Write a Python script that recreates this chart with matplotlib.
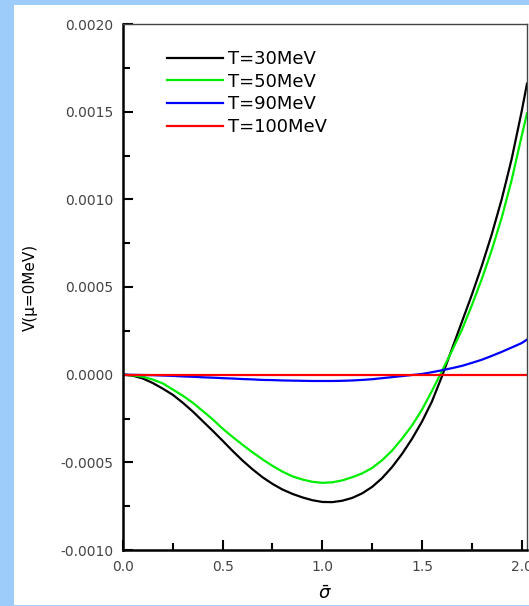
import matplotlib
matplotlib.use("Agg")
import matplotlib.pyplot as plt
from matplotlib.patches import Rectangle
from matplotlib.ticker import MultipleLocator, FormatStrFormatter

plt.rcParams['font.family'] = ['DejaVu Sans']
plt.rcParams['axes.unicode_minus'] = False

# sigma-bar values
sigma = [0.0, 0.05, 0.1, 0.15, 0.2, 0.25, 0.3, 0.35, 0.4, 0.45,
         0.5, 0.55, 0.6, 0.65, 0.7, 0.75, 0.8, 0.85, 0.9, 0.95,
         1.0, 1.05, 1.1, 1.15, 1.2, 1.25, 1.3, 1.35, 1.4, 1.45,
         1.5, 1.55, 1.6, 1.65, 1.7, 1.75, 1.8, 1.85, 1.9, 1.95,
         2.0, 2.027]

v_t30 = [0.0, -0.000006, -0.000022, -0.000048, -0.00008, -0.000115, -0.00016, -0.00021, -0.000265, -0.00032,
         -0.000377, -0.000435, -0.00049, -0.00054, -0.000585, -0.000623, -0.000655, -0.00068, -0.0007, -0.000716,
         -0.000726, -0.000727, -0.000719, -0.000703, -0.000677, -0.00064, -0.00059, -0.000527, -0.000452, -0.000366,
         -0.000268, -0.000153, -0.00001, 0.000145, 0.0003, 0.000455, 0.00062, 0.0008, 0.001, 0.00123,
         0.0015, 0.00166]
v_t50 = [0.0, -0.000004, -0.000012, -0.000028, -0.00005, -0.000085, -0.00012, -0.00016, -0.000207, -0.000255,
         -0.000308, -0.000355, -0.0004, -0.000443, -0.000483, -0.00052, -0.000553, -0.00058, -0.000598, -0.000611,
         -0.000617, -0.000614, -0.000603, -0.000585, -0.000563, -0.000532, -0.000488, -0.000433, -0.000365, -0.00029,
         -0.0002, -0.000093, 0.00002, 0.000135, 0.000255, 0.000395, 0.000545, 0.00071, 0.000895, 0.00111,
         0.00136, 0.00149]
v_t90 = [0.0, -0.000001, -0.000002, -0.000003, -0.000005, -0.000007, -0.00001, -0.000012, -0.000015, -0.000017,
         -0.00002, -0.000022, -0.000025, -0.000027, -0.00003, -0.000031, -0.000033, -0.000034, -0.000035, -0.000036,
         -0.000036, -0.000036, -0.000035, -0.000033, -0.00003, -0.000026, -0.00002, -0.000014, -0.000008, -0.000002,
         0.000004, 0.000014, 0.000025, 0.000037, 0.00005, 0.000067, 0.000085, 0.000107, 0.00013, 0.000155,
         0.00018, 0.0002]
v_t100 = [0.0] * len(sigma)

series = [("T=30MeV", v_t30, "black"),
          ("T=50MeV", v_t50, "#00ee00"),
          ("T=90MeV", v_t90, "#0000ff"),
          ("T=100MeV", v_t100, "#ff0000")]

W, H = 529, 606
fig = plt.figure(figsize=(W / 100, H / 100), dpi=100)
fig.patch.set_facecolor("#9dcbfa")
# white page inside the blue frame
fig.add_artist(Rectangle((14 / W, 1 / H), 1, (H - 6) / H,
                         transform=fig.transFigure, facecolor="white",
                         edgecolor="none", zorder=-10))

ax = fig.add_axes([123 / W, (H - 550) / H, (527 - 123) / W, (550 - 24) / H])
ax.set_zorder(1)

for label, vals, color in series:
    ax.plot(sigma, vals, color=color, lw=1.6, label=label)

ax.set_xlim(0, 2.027)
ax.set_ylim(-0.001, 0.002)
ax.xaxis.set_major_locator(MultipleLocator(0.5))
ax.xaxis.set_minor_locator(MultipleLocator(0.25))
ax.xaxis.set_major_formatter(FormatStrFormatter('%.1f'))
ax.yaxis.set_major_locator(MultipleLocator(0.0005))
ax.yaxis.set_minor_locator(MultipleLocator(0.00025))
ax.yaxis.set_major_formatter(FormatStrFormatter('%.4f'))

ax.tick_params(which='both', direction='in', top=False, right=False,
               width=1.5, color='black', labelcolor='#444444', labelsize=10)
ax.tick_params(which='major', length=7, pad=7)
ax.tick_params(which='minor', length=5)

for side in ('left', 'bottom'):
    ax.spines[side].set_linewidth(1.8)
for side in ('top', 'right'):
    ax.spines[side].set_linewidth(1.0)
    ax.spines[side].set_color('#444444')

ax.set_ylabel("V(μ=0MeV)", fontsize=11, labelpad=16)
ax.set_xlabel(r"$\bar{\sigma}$", fontsize=13, labelpad=8)

ax.legend(loc='upper left', bbox_to_anchor=(0.109, 0.95), frameon=False,
          fontsize=13, handlelength=3.1, handletextpad=0.3,
          borderpad=0, borderaxespad=0, labelspacing=0.25)

fig.savefig("out.png", dpi=100, facecolor=fig.get_facecolor())
